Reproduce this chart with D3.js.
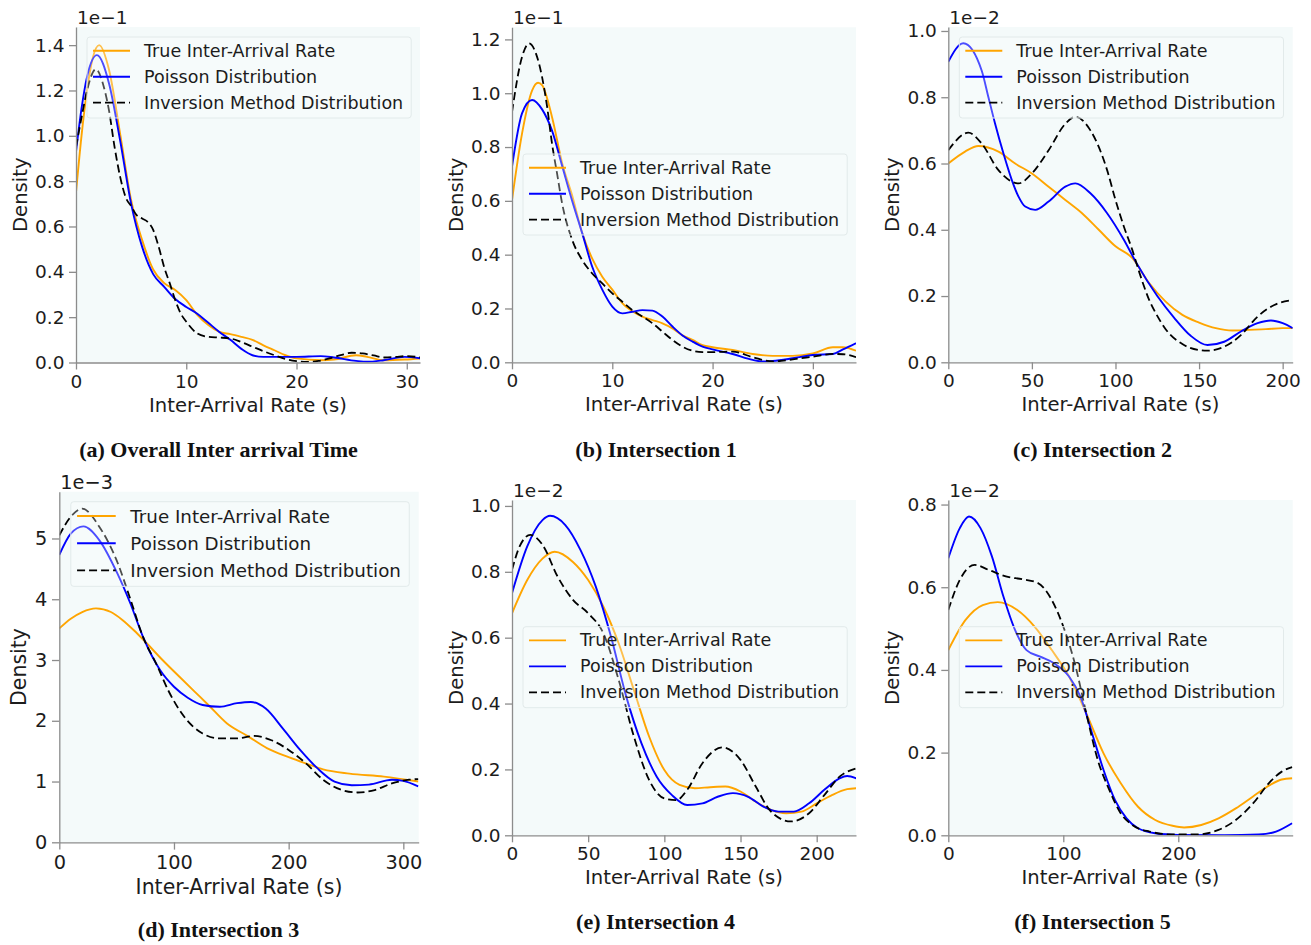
<!DOCTYPE html>
<html>
<head>
<meta charset="utf-8">
<script src="https://cdn.jsdelivr.net/npm/d3@7"></script>
<style>
  body { margin: 0; background: #ffffff; }
  svg { display: block; }
  text { font-family: "DejaVu Sans", sans-serif; }
</style>
</head>
<body>
<svg id="fig" width="1311" height="945"></svg>
<script>
// Legend entries and their styles
const seriesNames = ["True Inter-Arrival Rate", "Poisson Distribution", "Inversion Method Distribution"];
const seriesColors = ["#ffa500", "#0000ff", "#000000"];

// (a) Overall inter-arrival time — density in units of 1e-1, [seconds, density]
const aTrue = [[0,0.75],[0.5,1.0],[1,1.2],[1.5,1.34],[2.1,1.40],[3,1.29],[4,1.01],[5,0.716],[6,0.54],[7,0.41],[8,0.35],[9,0.32],[10,0.275],[11,0.21],[12,0.165],[13,0.135],[14,0.125],[15,0.113],[16,0.10],[17,0.076],[18,0.054],[19,0.032],[20,0.018],[22.2,0.01],[23.4,0.013],[25.4,0.032],[26.4,0.025],[27.9,0.01],[29.8,0.013],[31.3,0.018]];
const aPoisson = [[0,0.93],[0.5,1.12],[1,1.26],[1.9,1.356],[3,1.23],[4,0.98],[5,0.70],[6,0.51],[7,0.39],[8,0.334],[9,0.28],[10,0.245],[11,0.215],[12,0.175],[13,0.135],[14,0.10],[15,0.06],[16,0.032],[17,0.025],[18.8,0.025],[20,0.025],[22.2,0.028],[23.4,0.022],[25.4,0.007],[26.4,0.003],[27.9,0.01],[29.8,0.025],[31.3,0.018]];
const aInversion = [[0,0.95],[0.5,1.08],[1,1.2],[1.8,1.294],[2.5,1.22],[3,1.11],[3.5,0.95],[4,0.82],[4.5,0.73],[5,0.69],[5.5,0.65],[6,0.635],[6.5,0.62],[7,0.585],[7.5,0.51],[8,0.42],[8.5,0.35],[9,0.275],[9.5,0.216],[10,0.18],[11,0.128],[12,0.113],[13,0.11],[14,0.106],[15,0.09],[16,0.07],[17,0.05],[18,0.032],[19,0.015],[20,0.006],[21,0.003],[22,0.007],[23,0.018],[24,0.032],[25,0.043],[26,0.04],[27,0.031],[28,0.022],[29,0.025],[30,0.028],[31.3,0.022]];

// (b) Intersection 1 — density in units of 1e-1
const bTrue = [[0,0.603],[1,0.85],[2,1.01],[2.6,1.039],[3,1.03],[4,0.91],[5,0.74],[6,0.62],[7,0.48],[8,0.385],[9,0.318],[10,0.27],[11,0.22],[12,0.19],[13,0.17],[14,0.157],[15,0.145],[16,0.126],[17,0.10],[18,0.083],[19,0.064],[20,0.056],[22,0.046],[24,0.031],[26,0.024],[28,0.024],[30,0.033],[32,0.056],[33,0.056],[34.3,0.043]];
const bPoisson = [[0,0.727],[1,0.925],[2,0.975],[3,0.94],[4,0.86],[5,0.73],[6,0.60],[7,0.48],[8,0.355],[9,0.27],[10,0.207],[11,0.182],[12,0.188],[13,0.194],[14,0.192],[15,0.17],[16,0.133],[17,0.10],[18,0.077],[19,0.058],[20,0.048],[22,0.031],[24,0.009],[25,0.003],[26,0.005],[28,0.015],[30,0.027],[32,0.031],[33,0.048],[34.3,0.071]];
const bInversion = [[0,0.93],[1,1.135],[1.7,1.185],[2.5,1.135],[3,1.06],[3.5,0.95],[4,0.81],[4.5,0.70],[5,0.59],[6,0.455],[7,0.38],[8,0.33],[9,0.293],[10,0.256],[11,0.225],[12,0.194],[13,0.17],[14,0.145],[15,0.114],[16,0.083],[17,0.058],[18,0.043],[19,0.038],[20,0.038],[22,0.04],[24,0.019],[26,0.003],[28,0.011],[30,0.021],[32,0.031],[33,0.03],[34.3,0.019]];

// (c) Intersection 2 — density in units of 1e-2
const cTrue = [[0,0.60],[10,0.636],[18,0.653],[30,0.636],[40,0.60],[50,0.57],[60,0.53],[70,0.49],[80,0.45],[90,0.40],[100,0.35],[110,0.315],[120,0.24],[130,0.183],[140,0.143],[150,0.12],[160,0.103],[170,0.096],[180,0.098],[190,0.10],[200,0.103],[206,0.103]];
const cPoisson = [[0,0.907],[9,0.963],[20,0.88],[24,0.80],[28,0.72],[33,0.63],[38,0.55],[42,0.50],[46,0.47],[52,0.46],[60,0.485],[70,0.53],[76,0.54],[85,0.51],[95,0.45],[105,0.37],[112.5,0.30],[125,0.20],[135,0.135],[145,0.08],[155,0.052],[165,0.062],[175,0.093],[185,0.118],[193,0.126],[200,0.118],[206,0.103]];
const cInversion = [[0,0.64],[12,0.693],[20,0.66],[30,0.58],[42,0.54],[50,0.57],[60,0.64],[70,0.72],[76,0.741],[85,0.70],[90,0.65],[95,0.58],[100,0.49],[105,0.41],[110,0.34],[115,0.26],[120,0.19],[125,0.14],[130,0.10],[140,0.055],[150,0.037],[155,0.035],[165,0.047],[175,0.082],[185,0.138],[195,0.173],[206,0.188]];

// (d) Intersection 3 — density in units of 1e-3
const dTrue = [[0,3.52],[10,3.68],[20,3.79],[32,3.85],[45,3.79],[55,3.66],[65,3.49],[75,3.30],[90,3.0],[105,2.72],[118,2.48],[130,2.26],[146,1.96],[165,1.74],[181,1.55],[200,1.40],[216,1.29],[230,1.20],[253,1.13],[283,1.08],[313,1.0]];
const dPoisson = [[0,4.73],[10,5.08],[21,5.20],[35,4.97],[50,4.45],[62,3.93],[73,3.38],[88,2.83],[100,2.56],[112,2.38],[125,2.26],[140,2.23],[155,2.29],[167,2.31],[180,2.20],[195,1.87],[210,1.52],[225,1.22],[240,1.0],[255,0.94],[270,0.95],[290,1.03],[300,1.01],[313,0.92]];
const dInversion = [[0,5.05],[10,5.36],[20,5.49],[35,5.19],[50,4.64],[62,4.0],[73,3.38],[85,2.92],[95,2.50],[110,2.04],[125,1.79],[140,1.71],[155,1.71],[170,1.75],[185,1.68],[200,1.52],[215,1.30],[230,1.03],[245,0.87],[260,0.82],[275,0.86],[290,0.97],[305,1.03],[313,1.04]];

// (e) Intersection 4 — density in units of 1e-2
const eTrue = [[0,0.674],[10,0.775],[20,0.84],[28,0.861],[40,0.83],[50,0.775],[60,0.694],[70,0.583],[80,0.441],[90,0.30],[100,0.198],[110,0.153],[120,0.143],[130,0.146],[140,0.148],[150,0.133],[160,0.102],[170,0.077],[180,0.067],[190,0.072],[200,0.097],[210,0.122],[220,0.14],[226,0.143]];
const ePoisson = [[0,0.735],[10,0.877],[20,0.957],[25,0.97],[35,0.942],[45,0.866],[55,0.755],[65,0.603],[75,0.421],[85,0.279],[95,0.178],[105,0.122],[115,0.092],[125,0.097],[135,0.117],[145,0.128],[155,0.117],[165,0.087],[175,0.072],[185,0.072],[195,0.097],[205,0.138],[215,0.173],[220,0.18],[226,0.173]];
const eInversion = [[0,0.806],[5,0.877],[12,0.912],[20,0.882],[30,0.785],[40,0.715],[50,0.674],[60,0.613],[70,0.472],[80,0.30],[90,0.168],[100,0.112],[108,0.107],[115,0.138],[125,0.219],[138,0.267],[150,0.229],[160,0.148],[170,0.072],[183,0.042],[195,0.067],[205,0.122],[215,0.178],[226,0.203]];

// (f) Intersection 5 — density in units of 1e-2
const fTrue = [[0,0.448],[15,0.521],[30,0.557],[43,0.564],[60,0.545],[75,0.505],[90,0.448],[105,0.384],[120,0.295],[135,0.198],[150,0.126],[165,0.069],[180,0.037],[195,0.023],[205,0.019],[220,0.025],[235,0.041],[250,0.065],[265,0.094],[280,0.122],[290,0.135],[299,0.138]];
const fPoisson = [[0,0.67],[10,0.743],[18,0.771],[28,0.743],[38,0.674],[48,0.577],[58,0.497],[68,0.448],[80,0.432],[92,0.416],[105,0.384],[115,0.335],[125,0.247],[135,0.158],[145,0.085],[155,0.041],[165,0.017],[180,0.005],[200,0.001],[240,0],[270,0.002],[285,0.009],[299,0.029]];
const fInversion = [[0,0.545],[10,0.618],[23,0.654],[35,0.642],[50,0.626],[65,0.619],[78,0.61],[90,0.569],[100,0.505],[110,0.416],[120,0.295],[130,0.182],[140,0.11],[150,0.053],[160,0.025],[175,0.009],[195,0.002],[215,0.002],[235,0.013],[250,0.037],[265,0.077],[280,0.13],[290,0.154],[299,0.165]];

// Tick values per panel
const aXTicks = [0, 10, 20, 30];
const aYTicks = [0, 0.2, 0.4, 0.6, 0.8, 1.0, 1.2, 1.4];
const bXTicks = [0, 10, 20, 30];
const bYTicks = [0, 0.2, 0.4, 0.6, 0.8, 1.0, 1.2];
const cXTicks = [0, 50, 100, 150, 200];
const cYTicks = [0, 0.2, 0.4, 0.6, 0.8, 1.0];
const dXTicks = [0, 100, 200, 300];
const dYTicks = [0, 1, 2, 3, 4, 5];
const eXTicks = [0, 50, 100, 150, 200];
const eYTicks = [0, 0.2, 0.4, 0.6, 0.8, 1.0];
const fXTicks = [0, 100, 200];
const fYTicks = [0, 0.2, 0.4, 0.6, 0.8];

const captions = ["(a) Overall Inter arrival Time", "(b) Intersection 1", "(c) Intersection 2",
                  "(d) Intersection 3", "(e) Intersection 4", "(f) Intersection 5"];
const exponents = ["1e\u22121", "1e\u22121", "1e\u22122", "1e\u22123", "1e\u22122", "1e\u22122"];

// Panel layout: plot box in page pixels, axis limits, legend offset, text scale
const panels = [
  { series: [aTrue, aPoisson, aInversion], xTicks: aXTicks, yTicks: aYTicks, fmt: ".1f",
    xMax: 31.2, yMax: 1.48, box: { l: 76, t: 27, r: 420, b: 362.5 }, legendDy: 10, s: 1, capX: 218.5, capY: 457 },
  { series: [bTrue, bPoisson, bInversion], xTicks: bXTicks, yTicks: bYTicks, fmt: ".1f",
    xMax: 34.3, yMax: 1.245, box: { l: 512, t: 27.3, r: 856, b: 362.3 }, legendDy: 126.7, s: 1, capX: 656, capY: 457 },
  { series: [cTrue, cPoisson, cInversion], xTicks: cXTicks, yTicks: cYTicks, fmt: ".1f",
    xMax: 206, yMax: 1.012, box: { l: 948.3, t: 27, r: 1292.7, b: 362.3 }, legendDy: 10, s: 1, capX: 1092.5, capY: 457 },
  { series: [dTrue, dPoisson, dInversion], xTicks: dXTicks, yTicks: dYTicks, fmt: "d",
    xMax: 313.4, yMax: 5.77, box: { l: 59.3, t: 491.7, r: 418.7, b: 842.3 }, legendDy: 10, s: 1.045, capX: 218.5, capY: 937 },
  { series: [eTrue, ePoisson, eInversion], xTicks: eXTicks, yTicks: eYTicks, fmt: ".1f",
    xMax: 225.8, yMax: 1.018, box: { l: 512, t: 500, r: 856, b: 835.3 }, legendDy: 126.7, s: 1, capX: 655.5, capY: 928.5 },
  { series: [fTrue, fPoisson, fInversion], xTicks: fXTicks, yTicks: fYTicks, fmt: ".1f",
    xMax: 299.5, yMax: 0.811, box: { l: 948.3, t: 500, r: 1292.7, b: 835.3 }, legendDy: 126.7, s: 1, capX: 1092.5, capY: 928.5 }
];

const svg = d3.select("#fig");
const spineColor = "#8c8c8c";
const textColor = "#1c1c1c";
const dashes = ["none", "none", "8,4"];
const tickFont = 18.5, labelFont = 19.6, legendFont = 17.5, expFont = 18.5;

panels.forEach((p, i) => {
  const { l, t, r, b } = p.box;
  const s = p.s;
  const g = svg.append("g").attr("class", "panel-" + i);

  const x = d3.scaleLinear().domain([0, p.xMax]).range([l, r]);
  const y = d3.scaleLinear().domain([0, p.yMax]).range([b, t]);

  // plot background
  g.append("rect").attr("x", l).attr("y", t).attr("width", r - l).attr("height", b - t)
    .attr("fill", "#f4fafa");

  const clipId = "clip-" + i;
  g.append("clipPath").attr("id", clipId)
    .append("rect").attr("x", l).attr("y", t).attr("width", r - l).attr("height", b - t);

  // density curves
  const line = d3.line().x(d => x(d[0])).y(d => y(d[1])).curve(d3.curveMonotoneX);
  const curves = g.append("g").attr("clip-path", `url(#${clipId})`);
  p.series.forEach((data, k) => {
    curves.append("path").datum(data)
      .attr("d", line)
      .attr("fill", "none")
      .attr("stroke", seriesColors[k])
      .attr("stroke-width", k === 2 ? 1.8 : 1.9)
      .attr("stroke-dasharray", dashes[k])
      .attr("stroke-linejoin", "round");
  });

  // axes
  const yAxis = g.append("g").attr("transform", `translate(${l},0)`)
    .call(d3.axisLeft(y).tickValues(p.yTicks).tickFormat(d3.format(p.fmt))
      .tickSize(7 * s).tickSizeOuter(0).tickPadding(4.5 * s));
  const xAxis = g.append("g").attr("transform", `translate(0,${b})`)
    .call(d3.axisBottom(x).tickValues(p.xTicks).tickFormat(d3.format("d"))
      .tickSize(7 * s).tickSizeOuter(0).tickPadding(5 * s));
  [yAxis, xAxis].forEach(ax => {
    ax.select(".domain").attr("stroke", spineColor).attr("stroke-width", 1.3);
    ax.selectAll(".tick line").attr("stroke", spineColor).attr("stroke-width", 1.3);
    ax.selectAll(".tick text").attr("fill", textColor)
      .style("font-size", (tickFont * s) + "px").style("font-family", "'DejaVu Sans', sans-serif");
  });

  // scale factor label
  g.append("text").attr("x", l + 1).attr("y", t - 3)
    .attr("fill", textColor).style("font-size", (expFont * s) + "px")
    .text(exponents[i]);

  // axis titles
  const tickBox = yAxis.node().getBBox();
  const ylx = l + tickBox.x - 15 * s;
  g.append("text")
    .attr("transform", `translate(${ylx},${(t + b) / 2}) rotate(-90)`)
    .attr("text-anchor", "middle").attr("dominant-baseline", "central")
    .attr("fill", textColor).style("font-size", (labelFont * s) + "px")
    .text("Density");
  g.append("text")
    .attr("x", (l + r) / 2).attr("y", b + 42.5 * s)
    .attr("text-anchor", "middle").attr("dominant-baseline", "central")
    .attr("fill", textColor).style("font-size", (labelFont * s) + "px")
    .text("Inter-Arrival Rate (s)");

  // legend (translucent frame so the curves stay visible beneath it)
  const lg = g.append("g").attr("transform", `translate(${l + 11 * s},${t + p.legendDy})`);
  const frame = lg.append("rect").attr("rx", 3).attr("ry", 3)
    .attr("fill", "#fbfefe").attr("fill-opacity", 0.3)
    .attr("stroke", "#e2eaea").attr("stroke-width", 1);
  let maxW = 0;
  seriesNames.forEach((name, k) => {
    const cy = 13.7 * s + k * 26 * s;
    lg.append("line").attr("x1", 6 * s).attr("x2", 43 * s).attr("y1", cy).attr("y2", cy)
      .attr("stroke", seriesColors[k]).attr("stroke-width", k === 2 ? 1.8 : 1.9)
      .attr("stroke-dasharray", dashes[k]);
    const tx = lg.append("text").attr("x", 57 * s).attr("y", cy)
      .attr("dominant-baseline", "central").attr("fill", textColor)
      .style("font-size", (legendFont * s) + "px").text(name);
    maxW = Math.max(maxW, tx.node().getComputedTextLength());
  });
  frame.attr("x", 0).attr("y", 0).attr("width", 57 * s + maxW + 8 * s).attr("height", 81 * s);

  // subfigure caption
  svg.append("text").attr("x", p.capX).attr("y", p.capY)
    .attr("text-anchor", "middle")
    .style("font-family", "'Liberation Serif', 'DejaVu Serif', serif")
    .style("font-weight", "bold").style("font-size", "22px")
    .attr("fill", "#111")
    .text(captions[i]);
});
</script>
</body>
</html>
